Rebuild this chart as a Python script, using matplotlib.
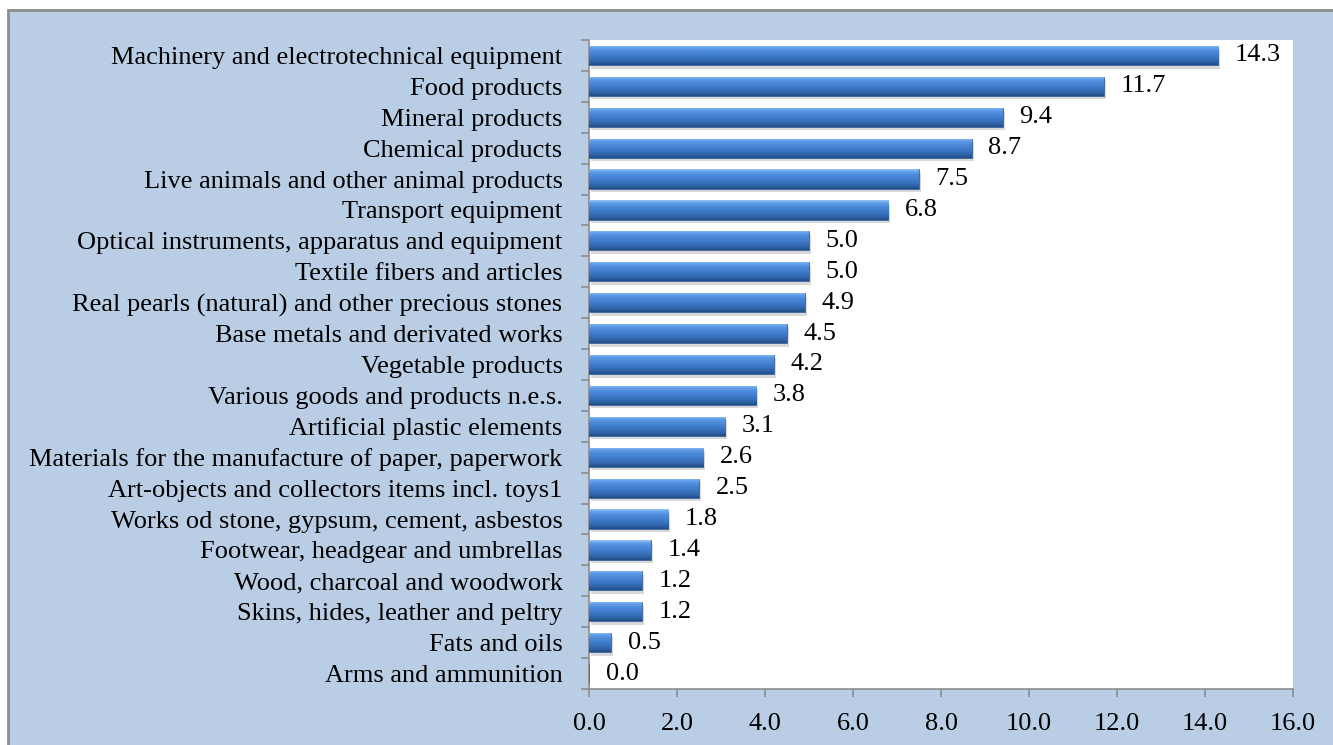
import numpy as np
import matplotlib
matplotlib.use('Agg')
import matplotlib.pyplot as plt
import matplotlib.patheffects as pe
from matplotlib.colors import LinearSegmentedColormap
from matplotlib.patches import Rectangle

categories = [
    'Machinery and electrotechnical equipment',
    'Food products',
    'Mineral products',
    'Chemical products',
    'Live animals and other animal products',
    'Transport equipment',
    'Optical instruments, apparatus and equipment',
    'Textile fibers and articles',
    'Real pearls (natural) and other precious stones',
    'Base metals and derivated works',
    'Vegetable products',
    'Various goods and products n.e.s.',
    'Artificial plastic elements',
    'Materials for the manufacture of paper, paperwork',
    'Art-objects and collectors items incl. toys1',
    'Works od stone, gypsum, cement, asbestos',
    'Footwear, headgear and umbrellas',
    'Wood, charcoal and woodwork',
    'Skins, hides, leather and peltry',
    'Fats and oils',
    'Arms and ammunition',
]
values = [14.3, 11.7, 9.4, 8.7, 7.5, 6.8, 5.0, 5.0, 4.9, 4.5, 4.2,
          3.8, 3.1, 2.6, 2.5, 1.8, 1.4, 1.2, 1.2, 0.5, 0.0]
xticks = [0, 2, 4, 6, 8, 10, 12, 14, 16]

plt.rcParams['font.family'] = ['Liberation Serif', 'DejaVu Serif']

fig = plt.figure(figsize=(13.33, 7.45), dpi=100, facecolor='white')
# blue chart frame
fig.patches.append(Rectangle((8 / 1333, -0.05), 1.2, 1 - 10 / 745 + 0.05,
                             transform=fig.transFigure, facecolor='#b9cde5',
                             edgecolor='#8c8c8c', linewidth=2, zorder=-10))

ax = fig.add_axes([589 / 1333, 1 - 689 / 745, (1293 - 589) / 1333, (689 - 40) / 745])
ax.set_facecolor('white')

n = len(categories)
ypos = np.arange(n)
bars = ax.barh(ypos, values, height=0.62, color='#3d78c6', edgecolor='#2a5590',
               linewidth=0.5, zorder=3)

# vertical shading of each bar, top row first
grad = LinearSegmentedColormap.from_list('bar', [
    (0.0, '#9cc6f5'), (0.12, '#62a0ea'), (0.35, '#4a88d8'),
    (0.6, '#3d78c6'), (0.85, '#2f62a8'), (1.0, '#234d85')])
g = np.linspace(0, 1, 64).reshape(-1, 1)
for b in bars:
    b.set_path_effects([pe.SimplePatchShadow(offset=(1.5, -2.5), shadow_rgbFace='#808080', alpha=0.3),
                        pe.Normal()])
    w = b.get_width()
    if w <= 0:
        continue
    y0 = b.get_y()
    h = b.get_height()
    im = ax.imshow(g, cmap=grad, aspect='auto', origin='upper',
                   extent=(0, w, y0 + h, y0), zorder=4, interpolation='bicubic')
    im.set_clip_path(b)

for y, v in zip(ypos, values):
    ax.annotate(f'{v:.1f}', xy=(v, y), xytext=(12, 0), textcoords='offset points',
                ha='left', va='center', fontsize=19, color='black', zorder=5)

ax.set_xlim(0, 16)
ax.set_ylim(n - 0.5, -0.5)
ax.set_xticks(xticks)
ax.set_xticklabels([f'{t:.1f}' for t in xticks], fontsize=19)
ax.set_yticks(ypos)
ax.set_yticklabels(categories, fontsize=19)
ax.set_yticks(np.arange(-0.5, n, 1), minor=True)
ax.tick_params(axis='y', which='major', length=0, pad=19)
ax.tick_params(axis='y', which='minor', length=6, color='#8c8c8c', width=1.2, direction='out')
ax.tick_params(axis='x', which='major', length=6, color='#8c8c8c', width=1.2, direction='out', pad=11)
for s in ['top', 'right']:
    ax.spines[s].set_visible(False)
for s in ['left', 'bottom']:
    ax.spines[s].set_color('#8c8c8c')
    ax.spines[s].set_linewidth(1.2)

fig.savefig('out.png', dpi=100, facecolor=fig.get_facecolor())
